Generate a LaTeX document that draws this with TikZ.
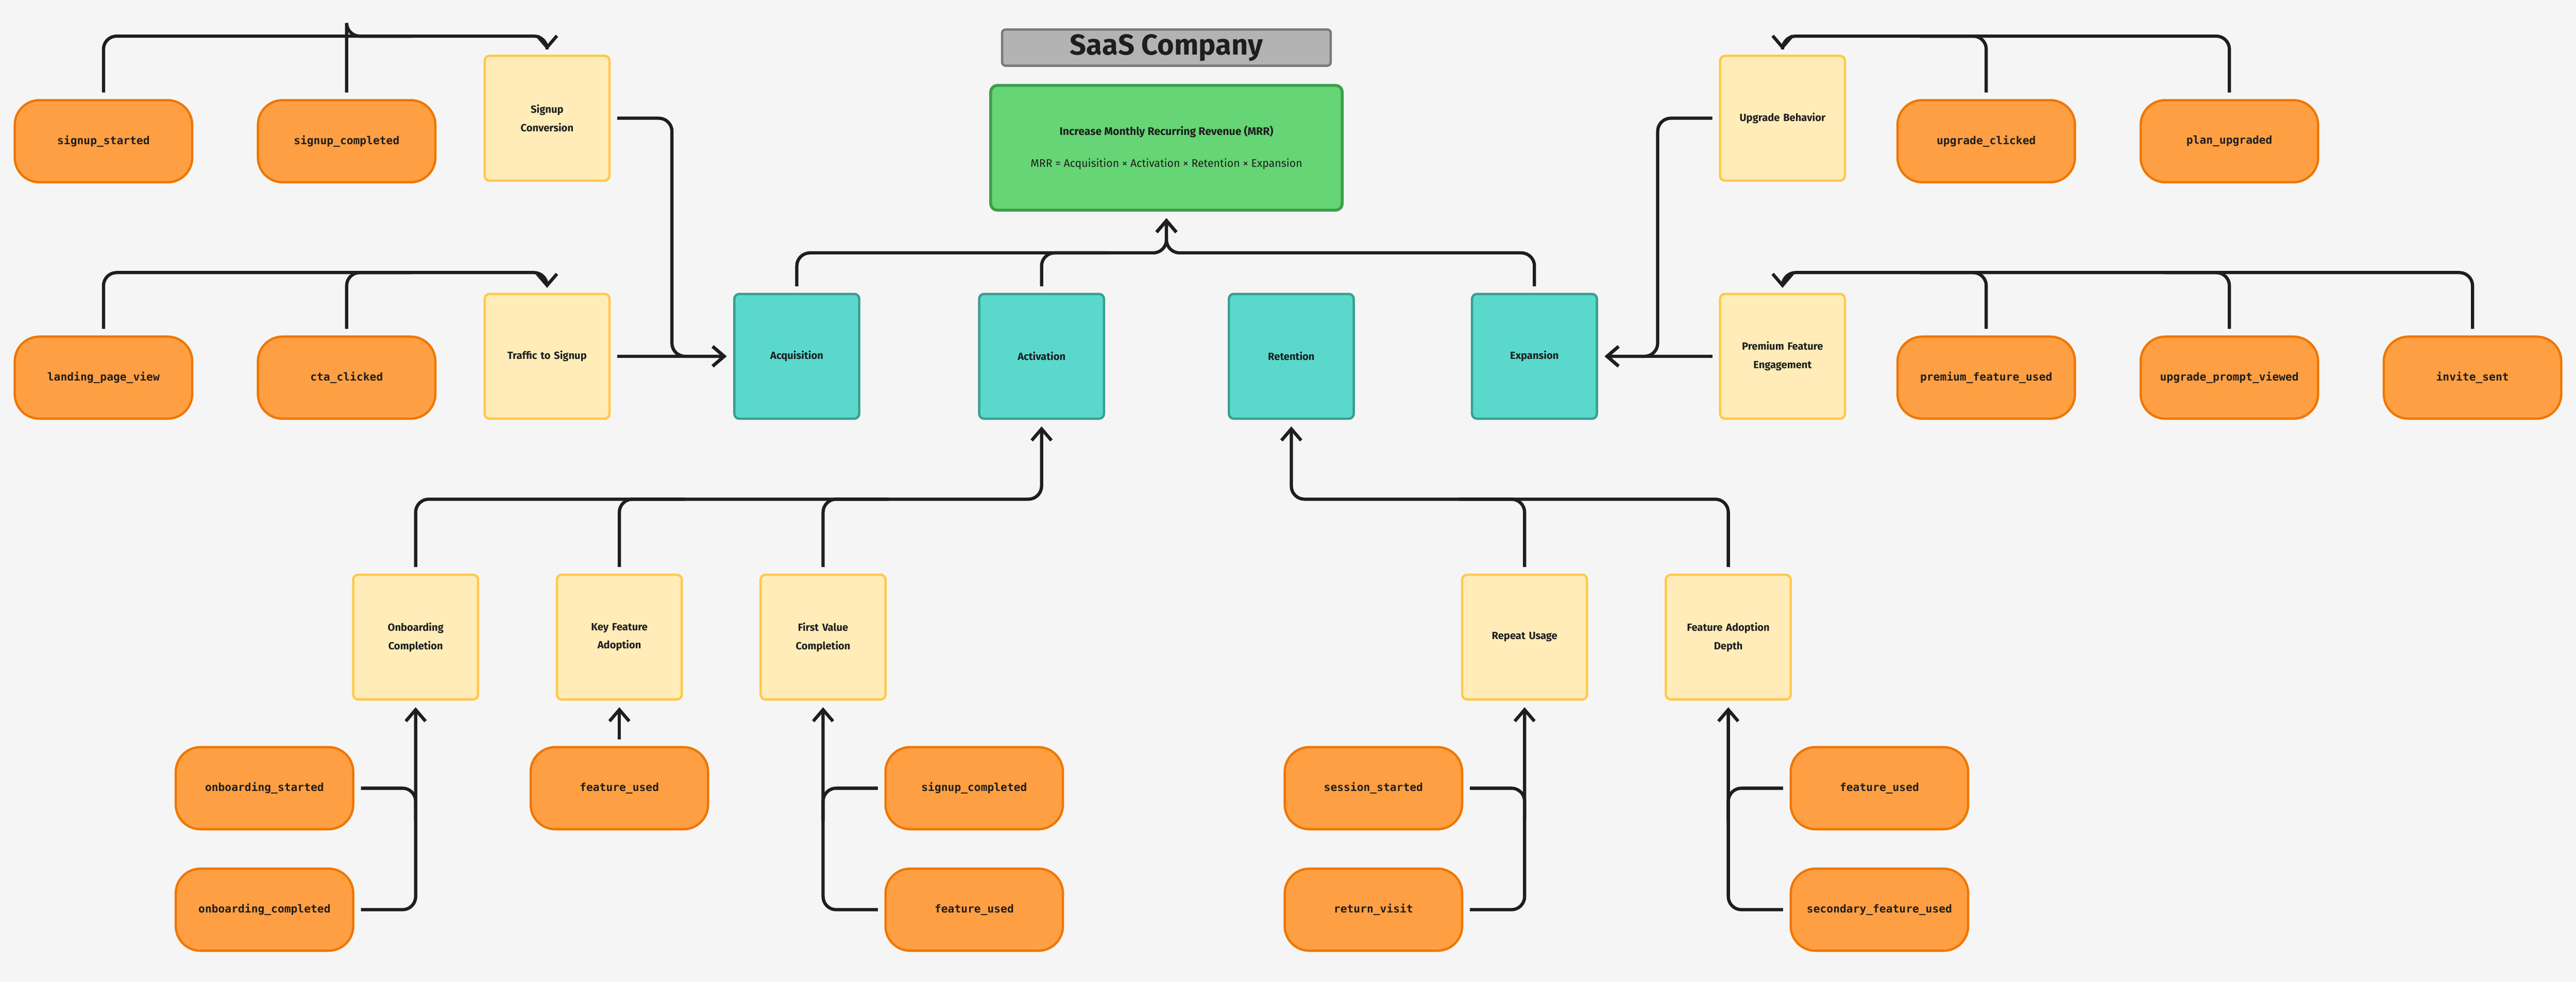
\documentclass[tikz,border=0pt]{standalone}
\usepackage{fontspec}
\setmainfont{Fira Sans}
\setmonofont{DejaVu Sans Mono}
\usetikzlibrary{arrows.meta}
\definecolor{bg}{HTML}{F5F5F5}
\definecolor{ink}{HTML}{1E1E1E}
\definecolor{orF}{HTML}{FF9F43}\definecolor{orD}{HTML}{EE7700}
\definecolor{yeF}{HTML}{FFECB8}\definecolor{yeD}{HTML}{FFC94A}
\definecolor{teF}{HTML}{5AD8CC}\definecolor{teD}{HTML}{3A9E92}
\definecolor{grF}{HTML}{66D575}\definecolor{grD}{HTML}{3E9E4C}
\definecolor{gyF}{HTML}{B3B3B3}\definecolor{gyD}{HTML}{7A7A7A}
\tikzset{
 ev/.style={draw=orD,fill=orF,line width=2pt,rounded corners=0.75cm,minimum width=5.4cm,minimum height=2.5cm,font=\ttfamily\bfseries\fontsize{9.5}{11}\selectfont,text=ink},
 me/.style={draw=yeD,fill=yeF,line width=2pt,rounded corners=0.15cm,minimum width=3.8cm,minimum height=3.8cm,text width=3.4cm,align=center,font=\bfseries\fontsize{9}{16}\selectfont,text=ink},
 pi/.style={draw=teD,fill=teF,line width=2pt,rounded corners=0.15cm,minimum width=3.8cm,minimum height=3.8cm,font=\bfseries\fontsize{9}{11}\selectfont,text=ink},
 conn/.style={draw=ink,line width=2.8pt,rounded corners=0.4cm},
 arr/.style={conn,-{Straight Barb[length=0.35cm,width=0.6cm,line width=2.8pt]}},
}
\begin{document}
\begin{tikzpicture}[x=0.05cm,y=-0.05cm]
\fill[bg] (0,0) rectangle (1568,598);
\useasboundingbox (0,0) rectangle (1568,598);
% title + goal
\node[draw=gyD,fill=gyF,line width=2pt,rounded corners=0.1cm,minimum width=10cm,minimum height=1.1cm,font=\bfseries\fontsize{25}{28}\selectfont,text=ink] (title) at (710,29) {SaaS Company};
\node[draw=grD,fill=grF,line width=2.5pt,rounded corners=0.2cm,minimum width=10.7cm,minimum height=3.8cm,align=center,text=ink] (goal) at (710,90)
 {{\bfseries\fontsize{9.5}{11}\selectfont Increase Monthly Recurring Revenue (MRR)}\\[0.55cm]{\fontsize{9.5}{11}\selectfont MRR = Acquisition × Activation × Retention × Expansion}};
% pillars
\node[pi] (acq) at (485,217) {Acquisition};
\node[pi] (act) at (634,217) {Activation};
\node[pi] (ret) at (786,217) {Retention};
\node[pi] (exp) at (934,217) {Expansion};
% metrics
\node[me] (sconv) at (333,72) {Signup\\Conversion};
\node[me] (traf) at (333,217) {Traffic to Signup};
\node[me] (upg) at (1085,72) {Upgrade Behavior};
\node[me] (prem) at (1085,217) {Premium Feature\\Engagement};
\node[me] (onb) at (253,388) {Onboarding\\Completion};
\node[me] (key) at (377,388) {Key Feature\\Adoption};
\node[me] (fvc) at (501,388) {First Value\\Completion};
\node[me] (rep) at (928,388) {Repeat Usage};
\node[me] (fad) at (1052,388) {Feature Adoption\\Depth};
% events
\node[ev] (e1) at (63,86) {signup\_started};
\node[ev] (e2) at (211,86) {signup\_completed};
\node[ev] (e3) at (63,230) {landing\_page\_view};
\node[ev] (e4) at (211,230) {cta\_clicked};
\node[ev] (e5) at (1209,86) {upgrade\_clicked};
\node[ev] (e6) at (1357,86) {plan\_upgraded};
\node[ev] (e7) at (1209,230) {premium\_feature\_used};
\node[ev] (e8) at (1357,230) {upgrade\_prompt\_viewed};
\node[ev] (e9) at (1505,230) {invite\_sent};
\node[ev] (b1) at (161,480) {onboarding\_started};
\node[ev] (b2) at (161,554) {onboarding\_completed};
\node[ev] (b3) at (377,480) {feature\_used};
\node[ev] (b4) at (593,480) {signup\_completed};
\node[ev] (b5) at (593,554) {feature\_used};
\node[ev] (b6) at (836,480) {session\_started};
\node[ev] (b7) at (836,554) {return\_visit};
\node[ev] (b8) at (1144,480) {feature\_used};
\node[ev] (b9) at (1144,554) {secondary\_feature\_used};
% top-left connectors
\draw[arr] ([yshift=0.2cm]e1.north) -- (e1.north |- 0,22) -- (sconv.north |- 0,22) -- ([yshift=0.15cm]sconv.north);
\draw[conn] ([yshift=0.2cm]e2.north) -- (e2.north |- 0,22) -- (e2.north |- 0,22) -- ([xshift=2cm]e2.north |- 0,22);
\draw[arr] ([yshift=0.2cm]e3.north) -- (e3.north |- 0,166) -- (traf.north |- 0,166) -- ([yshift=0.15cm]traf.north);
\draw[conn] ([yshift=0.2cm]e4.north) -- (e4.north |- 0,166) -- ([xshift=2cm]e4.north |- 0,166);
\draw[arr] ([xshift=0.2cm]sconv.east) -- (409,72) -- (409,217) -- ([xshift=-0.2cm]acq.west);
\draw[arr] ([xshift=0.2cm]traf.east) -- ([xshift=-0.2cm]acq.west);
% top-right connectors
\draw[arr] ([yshift=0.2cm]e6.north) -- (e6.north |- 0,22) -- (upg.north |- 0,22) -- ([yshift=0.15cm]upg.north);
\draw[conn] ([yshift=0.2cm]e5.north) -- (e5.north |- 0,22) -- ([xshift=-2cm]e5.north |- 0,22);
\draw[arr] ([yshift=0.2cm]e9.north) -- (e9.north |- 0,166) -- (prem.north |- 0,166) -- ([yshift=0.15cm]prem.north);
\draw[conn] ([yshift=0.2cm]e7.north) -- (e7.north |- 0,166) -- ([xshift=-2cm]e7.north |- 0,166);
\draw[conn] ([yshift=0.2cm]e8.north) -- (e8.north |- 0,166) -- ([xshift=-2cm]e8.north |- 0,166);
\draw[arr] ([xshift=-0.2cm]upg.west) -- (1009,72) -- (1009,217) -- ([xshift=0.2cm]exp.east);
\draw[arr] ([xshift=-0.2cm]prem.west) -- ([xshift=0.2cm]exp.east);
% pillars to goal
\draw[arr] ([yshift=0.2cm]acq.north) -- (acq.north |- 0,154) -- (goal.south |- 0,154) -- ([yshift=-0.2cm]goal.south);
\draw[arr] ([yshift=0.2cm]exp.north) -- (exp.north |- 0,154) -- (goal.south |- 0,154) -- ([yshift=-0.2cm]goal.south);
\draw[conn] ([yshift=0.2cm]act.north) -- (act.north |- 0,154) -- ([xshift=2cm]act.north |- 0,154);
% bottom metrics to pillars
\draw[arr] ([yshift=0.2cm]onb.north) -- (onb.north |- 0,304) -- (act.south |- 0,304) -- ([yshift=-0.2cm]act.south);
\draw[conn] ([yshift=0.2cm]key.north) -- (key.north |- 0,304) -- ([xshift=2cm]key.north |- 0,304);
\draw[conn] ([yshift=0.2cm]fvc.north) -- (fvc.north |- 0,304) -- ([xshift=2cm]fvc.north |- 0,304);
\draw[arr] ([yshift=0.2cm]fad.north) -- (fad.north |- 0,304) -- (ret.south |- 0,304) -- ([yshift=-0.2cm]ret.south);
\draw[conn] ([yshift=0.2cm]rep.north) -- (rep.north |- 0,304) -- ([xshift=-2cm]rep.north |- 0,304);
% events to bottom metrics
\draw[arr] ([xshift=0.2cm]b2.east) -- (onb.south |- b2.east) -- ([yshift=-0.2cm]onb.south);
\draw[conn] ([xshift=0.2cm]b1.east) -- (onb.south |- b1.east) -- ([yshift=-1cm]onb.south |- b1.east);
\draw[arr] ([yshift=0.2cm]b3.north) -- ([yshift=-0.2cm]key.south);
\draw[arr] ([xshift=-0.2cm]b5.west) -- (fvc.south |- b5.west) -- ([yshift=-0.2cm]fvc.south);
\draw[conn] ([xshift=-0.2cm]b4.west) -- (fvc.south |- b4.west) -- ([yshift=-1cm]fvc.south |- b4.west);
\draw[arr] ([xshift=0.2cm]b7.east) -- (rep.south |- b7.east) -- ([yshift=-0.2cm]rep.south);
\draw[conn] ([xshift=0.2cm]b6.east) -- (rep.south |- b6.east) -- ([yshift=-1cm]rep.south |- b6.east);
\draw[arr] ([xshift=-0.2cm]b9.west) -- (fad.south |- b9.west) -- ([yshift=-0.2cm]fad.south);
\draw[conn] ([xshift=-0.2cm]b8.west) -- (fad.south |- b8.west) -- ([yshift=-1cm]fad.south |- b8.west);
\end{tikzpicture}
\end{document}
